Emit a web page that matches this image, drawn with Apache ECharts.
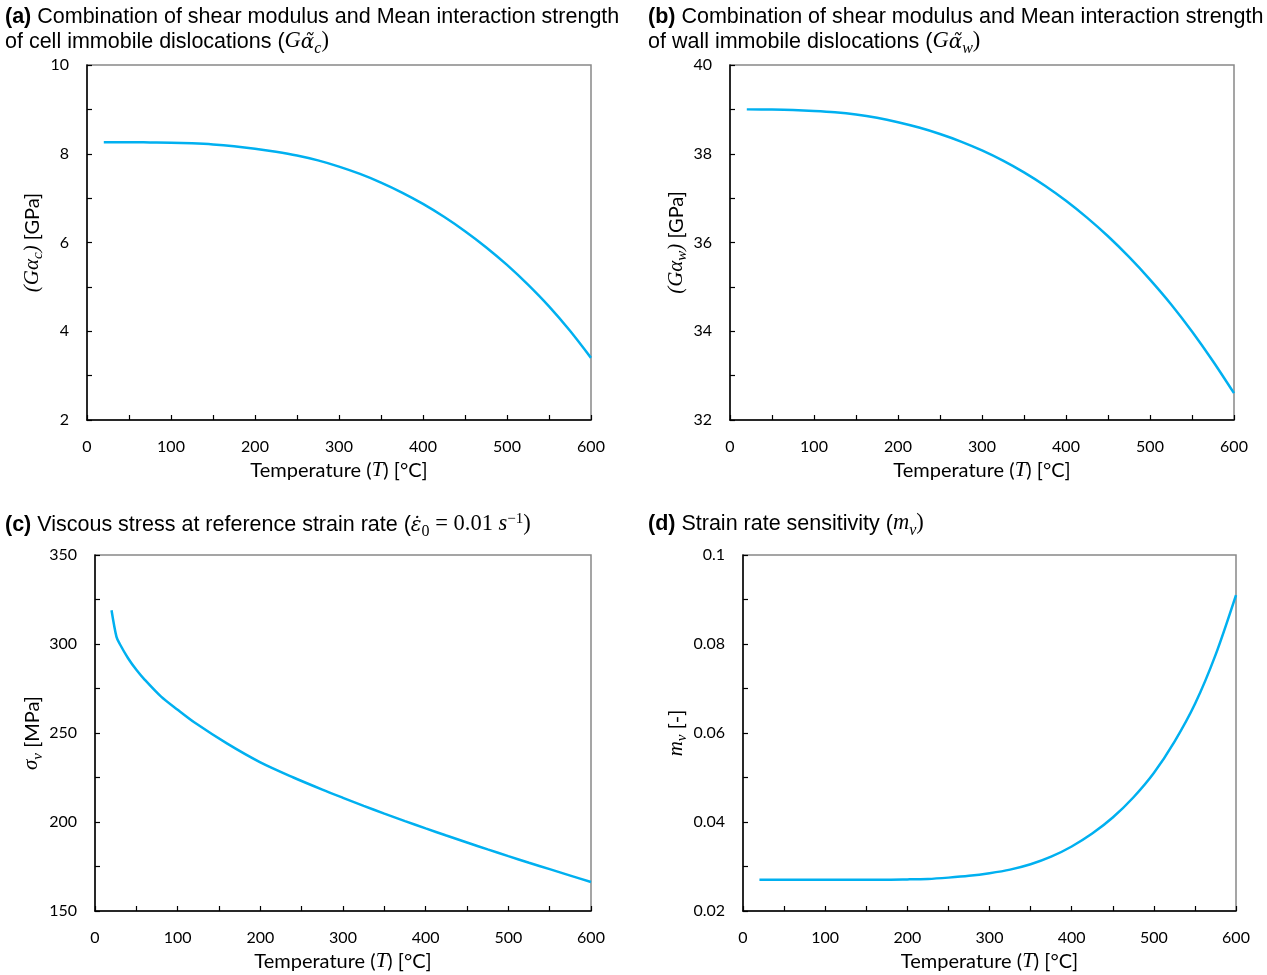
<!DOCTYPE html>
<html><head><meta charset="utf-8">
<script src="https://cdn.jsdelivr.net/npm/echarts@6/dist/echarts.min.js"></script>
<style>html,body{margin:0;padding:0;background:#fff}#c{width:1267px;height:975px}</style>
</head><body><div id="c"></div>
<script>
// ---- data ----
const tempA = [20, 50, 75, 100, 125, 150, 175, 200, 225, 250, 275, 300, 325, 350, 375, 400, 425, 450, 475, 500, 525, 550, 575, 600];
const gAlphaC = [8.26, 8.26, 8.255, 8.25, 8.235, 8.21, 8.17, 8.115, 8.045, 7.96, 7.85, 7.71, 7.545, 7.35, 7.125, 6.87, 6.58, 6.255, 5.895, 5.495, 5.05, 4.56, 4.01, 3.40];
const tempB = [20, 50, 75, 100, 125, 150, 175, 200, 225, 250, 275, 300, 325, 350, 375, 400, 425, 450, 475, 500, 525, 550, 575, 600];
const gAlphaW = [39.0, 38.995, 38.985, 38.965, 38.935, 38.885, 38.81, 38.71, 38.59, 38.445, 38.275, 38.075, 37.845, 37.58, 37.28, 36.94, 36.56, 36.14, 35.675, 35.165, 34.61, 33.995, 33.325, 32.605];
const tempC = [20, 26, 30, 40, 50, 60, 80, 100, 120, 160, 200, 240, 275, 300, 325, 350, 375, 400, 425, 450, 475, 500, 525, 550, 575, 600];
const sigmaV = [319, 304, 300, 292, 285.5, 280, 270.4, 263, 256, 244, 233.5, 225, 218.2, 213.6, 209.1, 204.7, 200.5, 196.4, 192.4, 188.5, 184.6, 180.8, 177.1, 173.5, 169.9, 166.3];
const tempD = [20, 100, 150, 200, 225, 250, 275, 300, 325, 350, 375, 400, 425, 450, 475, 500, 525, 550, 575, 600];
const mV = [0.0270, 0.0270, 0.0270, 0.0271, 0.0272, 0.0275, 0.0279, 0.0285, 0.0293, 0.0305, 0.0322, 0.0345, 0.0374, 0.0410, 0.0455, 0.0510, 0.0580, 0.0665, 0.0775, 0.0910];
const xTicks = {min: 0, max: 600, interval: 100};
const yA = {min: 2, max: 10, interval: 2};
const yB = {min: 32, max: 40, interval: 2};
const yC = {min: 150, max: 350, interval: 50};
const yD = {min: 0.02, max: 0.1, interval: 0.02};

const LINE = '#00B0F0';
const tickFont = 'Lato';
const N = {fontWeight: 'normal', color: '#000', verticalAlign: 'bottom'};
const titleRich = {
  b: Object.assign({}, N, {fontFamily: 'Liberation Sans', fontWeight: 'bold', fontSize: 21.5, padding: [0,0,4,0]}),
  t: Object.assign({}, N, {fontFamily: 'Liberation Sans', fontSize: 21.5, padding: [0,0,4,0]}),
  m: Object.assign({}, N, {fontFamily: 'Liberation Serif', fontStyle: 'italic', fontSize: 22.5, padding: [0,0,4,0]}),
  a: Object.assign({}, N, {fontFamily: 'DejaVu Serif', fontStyle: 'italic', fontSize: 20, padding: [0,0,4,0]}),
  r: Object.assign({}, N, {fontFamily: 'Liberation Serif', fontSize: 22.5, padding: [0,0,4,0]}),
  sub: Object.assign({}, N, {fontFamily: 'Liberation Serif', fontStyle: 'italic', fontSize: 16, padding: [0,0,0,0]}),
  subr: Object.assign({}, N, {fontFamily: 'Liberation Serif', fontSize: 16, padding: [0,0,0,0]}),
  sup: Object.assign({}, N, {fontFamily: 'Liberation Serif', fontSize: 15, padding: [0,0,13,0]})
};
const nameRich = {
  m: Object.assign({}, N, {fontFamily: 'Liberation Serif', fontStyle: 'italic', fontSize: 21, padding: [0,0,3,0]}),
  sub: Object.assign({}, N, {fontFamily: 'Liberation Serif', fontStyle: 'italic', fontSize: 15, padding: [0,0,0,0]}),
  t: Object.assign({}, N, {fontFamily: tickFont, fontSize: 20, padding: [0,0,3,0]})
};

const grids = [
  {left: 87, top: 65, width: 504, height: 355},
  {left: 730, top: 65, width: 504, height: 355},
  {left: 95, top: 555, width: 496, height: 356},
  {left: 743, top: 555, width: 493, height: 356}
].map(g => Object.assign({show: true, borderColor: '#888', borderWidth: 1.5, backgroundColor: 'transparent'}, g));

const xName = '{t|Temperature (}{m|T}{t|) [°C]}';
function xAxis(i) {
  return Object.assign({
    type: 'value', gridIndex: i,
    name: xName, nameLocation: 'middle', nameGap: 40,
    nameTextStyle: {rich: nameRich},
    axisLine: {show: true, onZero: false, lineStyle: {color: '#000', width: 1.5}},
    axisTick: {show: true, inside: true, length: 5, lineStyle: {color: '#000', width: 1.2}},
    minorTick: {show: true, splitNumber: 2, length: 5, lineStyle: {color: '#000', width: 1.2}},
    axisLabel: {fontFamily: tickFont, fontSize: 16, color: '#000', margin: 19},
    splitLine: {show: false}
  }, xTicks);
}
function yAxis(i, rng, name, gap, fmt) {
  return Object.assign({
    type: 'value', gridIndex: i,
    name: name, nameLocation: 'middle', nameGap: gap, nameRotate: 90,
    nameTextStyle: {rich: nameRich},
    axisLine: {show: true, onZero: false, lineStyle: {color: '#000', width: 1.5}},
    axisTick: {show: true, inside: true, length: 5, lineStyle: {color: '#000', width: 1.2}},
    minorTick: {show: true, splitNumber: 2, length: 5, lineStyle: {color: '#000', width: 1.2}},
    axisLabel: {fontFamily: tickFont, fontSize: 16, color: '#000', margin: 18, formatter: fmt},
    splitLine: {show: false}
  }, rng);
}
function series(i, xs, ys, sm) {
  return {
    type: 'line', xAxisIndex: i, yAxisIndex: i,
    data: xs.map((x, k) => [x, ys[k]]),
    showSymbol: false, smooth: sm,
    lineStyle: {color: LINE, width: 2.5}, silent: true
  };
}

const option = {
  animation: false,
  title: [
    {left: 0, top: 2, text: '{b|(a)}{t| Combination of shear modulus and Mean interaction strength}\n{t|of cell immobile dislocations (}{m|G}{a|α̃}{sub|c}{r|)}', textStyle: {rich: titleRich, lineHeight: 25}},
    {left: 643, top: 2, text: '{b|(b)}{t| Combination of shear modulus and Mean interaction strength}\n{t|of wall immobile dislocations (}{m|G}{a|α̃}{sub|w}{r|)}', textStyle: {rich: titleRich, lineHeight: 25}},
    {left: 0, top: 507, text: '{b|(c)}{t| Viscous stress at reference strain rate (}{a|ε̇}{subr|0}{r| = 0.01 }{m|s}{sup|−1}{r|)}', textStyle: {rich: titleRich}},
    {left: 643, top: 507, text: '{b|(d)}{t| Strain rate sensitivity (}{m|m}{sub|v}{r|)}', textStyle: {rich: titleRich}}
  ],
  grid: grids,
  xAxis: [0,1,2,3].map(xAxis),
  yAxis: [
    yAxis(0, yA, '{m|(Gα}{sub|c}{m|)}{t| [GPa]}', 41),
    yAxis(1, yB, '{m|(Gα}{sub|w}{m|)}{t| [GPa]}', 40),
    yAxis(2, yC, '{m|σ}{sub|v}{t| [MPa]}', 49),
    yAxis(3, yD, '{m|m}{sub|v}{t| [-]}', 52, v => String(+v.toFixed(2)))
  ],
  series: [
    series(0, tempA, gAlphaC, 0.3),
    series(1, tempB, gAlphaW, 0.3),
    series(2, tempC, sigmaV, 0.3),
    series(3, tempD, mV, 0.3)
  ]
};
echarts.init(document.getElementById('c'), null, {renderer: 'canvas'}).setOption(option);
</script></body></html>
